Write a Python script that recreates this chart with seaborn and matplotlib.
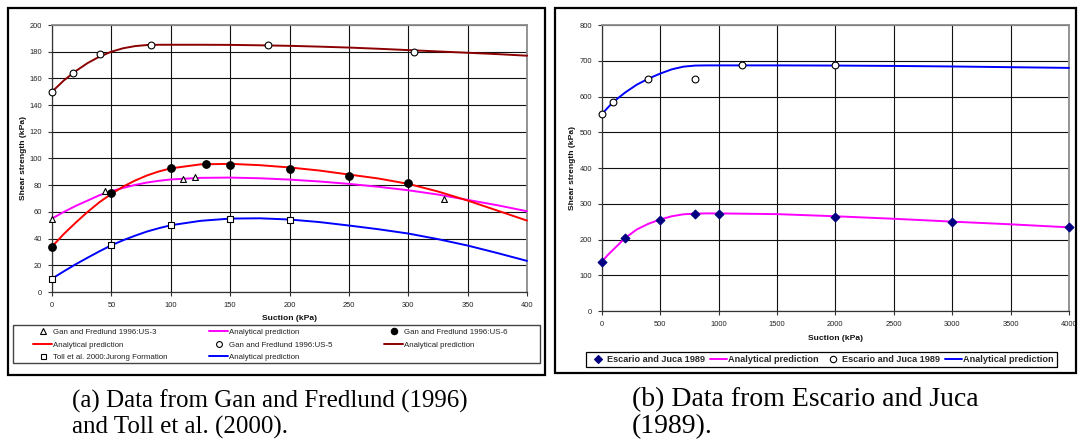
import matplotlib
matplotlib.use("Agg")
import matplotlib.pyplot as plt
import seaborn as sns
from matplotlib.patches import Rectangle
from matplotlib.lines import Line2D

# ---------------- Panel (a): Gan and Fredlund (1996), Toll et al. (2000)
us3_suction = [0, 45, 110, 120, 330]
us3_strength = [55, 76, 85, 86, 70]
us6_suction = [0, 50, 100, 130, 150, 200, 250, 300]
us6_strength = [34, 74, 93, 96, 95, 92, 87, 82]
us5_suction = [0, 18, 40, 83, 182, 305]
us5_strength = [150, 164, 178, 185, 185, 180]
toll_suction = [0, 50, 100, 150, 200]
toll_strength = [10, 35, 50, 55, 54]

pred_suction_a = [0, 10, 20, 30, 40, 50, 60, 70, 80, 90, 100, 125, 150, 175,
                  200, 225, 250, 275, 300, 325, 350, 375, 400]
pred_us3 = [55, 60, 64.5, 68.5, 72.5, 75.5, 78, 80.2, 82, 83.3, 84.3, 85.5, 85.7,
            85.2, 84.2, 82.8, 81, 78.8, 76.2, 73, 69, 65, 60.5]
pred_us6 = [34, 43.5, 52, 60, 67.3, 73.5, 79, 83.5, 87.3, 90.3, 92.6, 95.6, 96,
            95, 93.3, 91, 88, 85, 81, 75.3, 68.5, 61, 53.5]
pred_us5 = [150, 158.5, 165.5, 171.5, 176.3, 180, 182.6, 184.2, 185, 185.2, 185.2,
            185.2, 185.1, 184.8, 184.4, 183.8, 183.1, 182.2, 181.2, 180.2, 179.2,
            178.2, 177]
pred_toll = [10, 15.5, 20.8, 25.7, 30.5, 35, 38.8, 42.2, 45.3, 47.8, 50, 53.3, 55,
             55.2, 54.3, 52.4, 49.8, 47, 43.8, 39.6, 34.8, 29.2, 23.3]

# ---------------- Panel (b): Escario and Juca (1989)
ej1_suction = [0, 200, 500, 800, 1000, 2000, 3000, 4000]
ej1_strength = [137, 205, 255, 272, 272, 263, 250, 234]
ej2_suction = [0, 100, 400, 800, 1200, 2000]
ej2_strength = [550, 585, 650, 650, 687, 687]

pred_suction_b = [0, 50, 100, 200, 300, 400, 500, 600, 700, 800, 900, 1000,
                  1500, 2000, 2500, 3000, 3500, 4000]
pred_ej1 = [137, 156, 172, 204, 228, 244, 256, 265, 270.5, 272.5, 273, 273,
            271, 265, 258, 250, 242.5, 234]
pred_ej2 = [550, 568, 585, 611, 633, 650, 664, 676, 683.5, 686.5, 687, 687,
            687, 686.5, 685.5, 684, 682, 680]

xticks_a = list(range(0, 401, 50))
yticks_a = list(range(0, 201, 20))
xticks_b = list(range(0, 4001, 500))
yticks_b = list(range(0, 801, 100))

sns.set_style("white")
plt.rcParams["font.family"] = ["Liberation Sans", "DejaVu Sans"]

W, H = 1082, 448
fig = plt.figure(figsize=(W / 100, H / 100), dpi=100)


def fx(px):
    return px / W


def fy(py):
    return 1 - py / H


def frame_axes(ax, xlim, ylim, xticks, yticks):
    ax.set_xlim(*xlim)
    ax.set_ylim(*ylim)
    ax.set_xticks(xticks)
    ax.set_yticks(yticks)
    ax.grid(True, color="#111111", lw=0.8, zorder=0)
    ax.set_axisbelow(True)
    for s in ("top", "right"):
        ax.spines[s].set_color("#8c8c8c")
        ax.spines[s].set_linewidth(1.3)
    for s in ("left", "bottom"):
        ax.spines[s].set_color("#333333")
        ax.spines[s].set_linewidth(0.9)
    ax.tick_params(axis="both", which="both", direction="out", length=3,
                   width=0.8, color="#333333", labelsize=5.4,
                   labelcolor="#222222", pad=4, left=True, bottom=True)
    ax.set_xlabel("")
    ax.set_ylabel("")


def curve(ax, x, y, color):
    sns.lineplot(x=x, y=y, ax=ax, color=color, lw=1.4, zorder=3,
                 estimator=None, sort=True, clip_on=False)


def points(ax, x, y, marker, face, s, edge="black"):
    sns.scatterplot(x=x, y=y, ax=ax, marker=marker, color=face, edgecolor=edge,
                    s=s, linewidth=0.8, zorder=4, clip_on=False)


# ---------------- panel (a)
ax1 = fig.add_axes([fx(52), fy(292), (527 - 52) / W, (292 - 25) / H])
curve(ax1, pred_suction_a, pred_us5, "#8b0000")
curve(ax1, pred_suction_a, pred_us3, "#ff00ff")
curve(ax1, pred_suction_a, pred_us6, "#ff0000")
curve(ax1, pred_suction_a, pred_toll, "#0000ff")
points(ax1, us5_suction, us5_strength, "o", "white", 24)
points(ax1, us3_suction, us3_strength, "^", "white", 18)
points(ax1, us6_suction, us6_strength, "o", "black", 30)
points(ax1, toll_suction, toll_strength, "s", "white", 13)
frame_axes(ax1, (0, 400), (0, 200), xticks_a, yticks_a)

# ---------------- panel (b)
ax2 = fig.add_axes([fx(601.7), fy(311), (1069 - 601.7) / W, (311 - 25) / H])
curve(ax2, pred_suction_b, pred_ej2, "#0000ff")
curve(ax2, pred_suction_b, pred_ej1, "#ff00ff")
points(ax2, ej2_suction, ej2_strength, "o", "white", 24)
points(ax2, ej1_suction, ej1_strength, "D", "#000080", 20, edge="#000080")
frame_axes(ax2, (0, 4000), (0, 800), xticks_b, yticks_b)

# axis titles
lab = dict(fontsize=6.1, fontweight="bold", color="#111111", ha="center", va="center")
fig.text(fx(23.5), fy(158), "Shear strength (kPa)", rotation=90, **lab)
fig.text(fx(290), fy(318), "Suction (kPa)", **lab)
fig.text(fx(573), fy(168), "Shear strength (kPa)", rotation=90, **lab)
fig.text(fx(835), fy(338), "Suction (kPa)", **lab)

# ---------------- legend of panel (a): three columns
def mk(marker, face, ms, edge="black"):
    return Line2D([], [], ls="none", marker=marker, markerfacecolor=face,
                  markeredgecolor=edge, markersize=ms, markeredgewidth=0.8)


def ln(color):
    return Line2D([], [], color=color, lw=1.4)


leg_cols = [
    (33, [(mk("^", "white", 4.2), "Gan and Fredlund 1996:US-3"),
          (ln("#ff0000"), "Analytical prediction"),
          (mk("s", "white", 3.6), "Toll et al. 2000:Jurong Formation")]),
    (209, [(ln("#ff00ff"), "Analytical prediction"),
           (mk("o", "white", 4.2), "Gan and Fredlund 1996:US-5"),
           (ln("#0000ff"), "Analytical prediction")]),
    (384, [(mk("o", "black", 4.6), "Gan and Fredlund 1996:US-6"),
           (ln("#8b0000"), "Analytical prediction")]),
]
for x0, entries in leg_cols:
    hs = [e[0] for e in entries]
    ls = [e[1] for e in entries]
    lg = fig.legend(hs, ls, loc="upper left", bbox_to_anchor=(fx(x0), fy(328.5)),
                    bbox_transform=fig.transFigure, frameon=False, fontsize=5.7,
                    borderpad=0, borderaxespad=0, handlelength=2.4,
                    handletextpad=0.15, labelspacing=0.64)
    for t in lg.get_texts():
        t.set_color("#222222")

fig.add_artist(Rectangle((fx(13), fy(363)), (540 - 13) / W, (363 - 325) / H,
                         transform=fig.transFigure, fill=False, lw=1.0,
                         ec="#444444"))

# ---------------- legend of panel (b): one row
hb = [mk("D", "#000080", 4.2, edge="#000080"), ln("#ff00ff"),
      mk("o", "white", 4.6), ln("#0000ff")]
lb = ["Escario and Juca 1989", "Analytical prediction",
      "Escario and Juca 1989", "Analytical prediction"]
lgb = fig.legend(hb, lb, loc="center", bbox_to_anchor=(fx(821.5), fy(359.5)),
                 bbox_transform=fig.transFigure, ncol=4, fancybox=False,
                 prop=dict(size=6.6, weight="bold"), borderpad=0.3,
                 handlelength=1.85, handletextpad=0.12, columnspacing=0.55,
                 edgecolor="black", framealpha=1)
lgb.get_frame().set_linewidth(0.9)

# ---------------- outer frames
fig.add_artist(Rectangle((fx(8), fy(375)), (545 - 8) / W, (375 - 8) / H,
                         transform=fig.transFigure, fill=False, lw=1.6, ec="black"))
fig.add_artist(Rectangle((fx(555), fy(373)), (1076 - 555) / W, (373 - 8) / H,
                         transform=fig.transFigure, fill=False, lw=1.6, ec="black"))

# ---------------- captions
cap = dict(family=["Liberation Serif", "DejaVu Serif"], va="baseline",
           ha="left", color="black")
fig.text(fx(72), fy(408), "(a) Data from Gan and Fredlund (1996)", fontsize=18, **cap)
fig.text(fx(72), fy(434), "and Toll et al. (2000).", fontsize=18, **cap)
fig.text(fx(632), fy(406), "(b) Data from Escario and Juca", fontsize=20, **cap)
fig.text(fx(632), fy(433), "(1989).", fontsize=20, **cap)

fig.savefig("out.png", dpi=100)
